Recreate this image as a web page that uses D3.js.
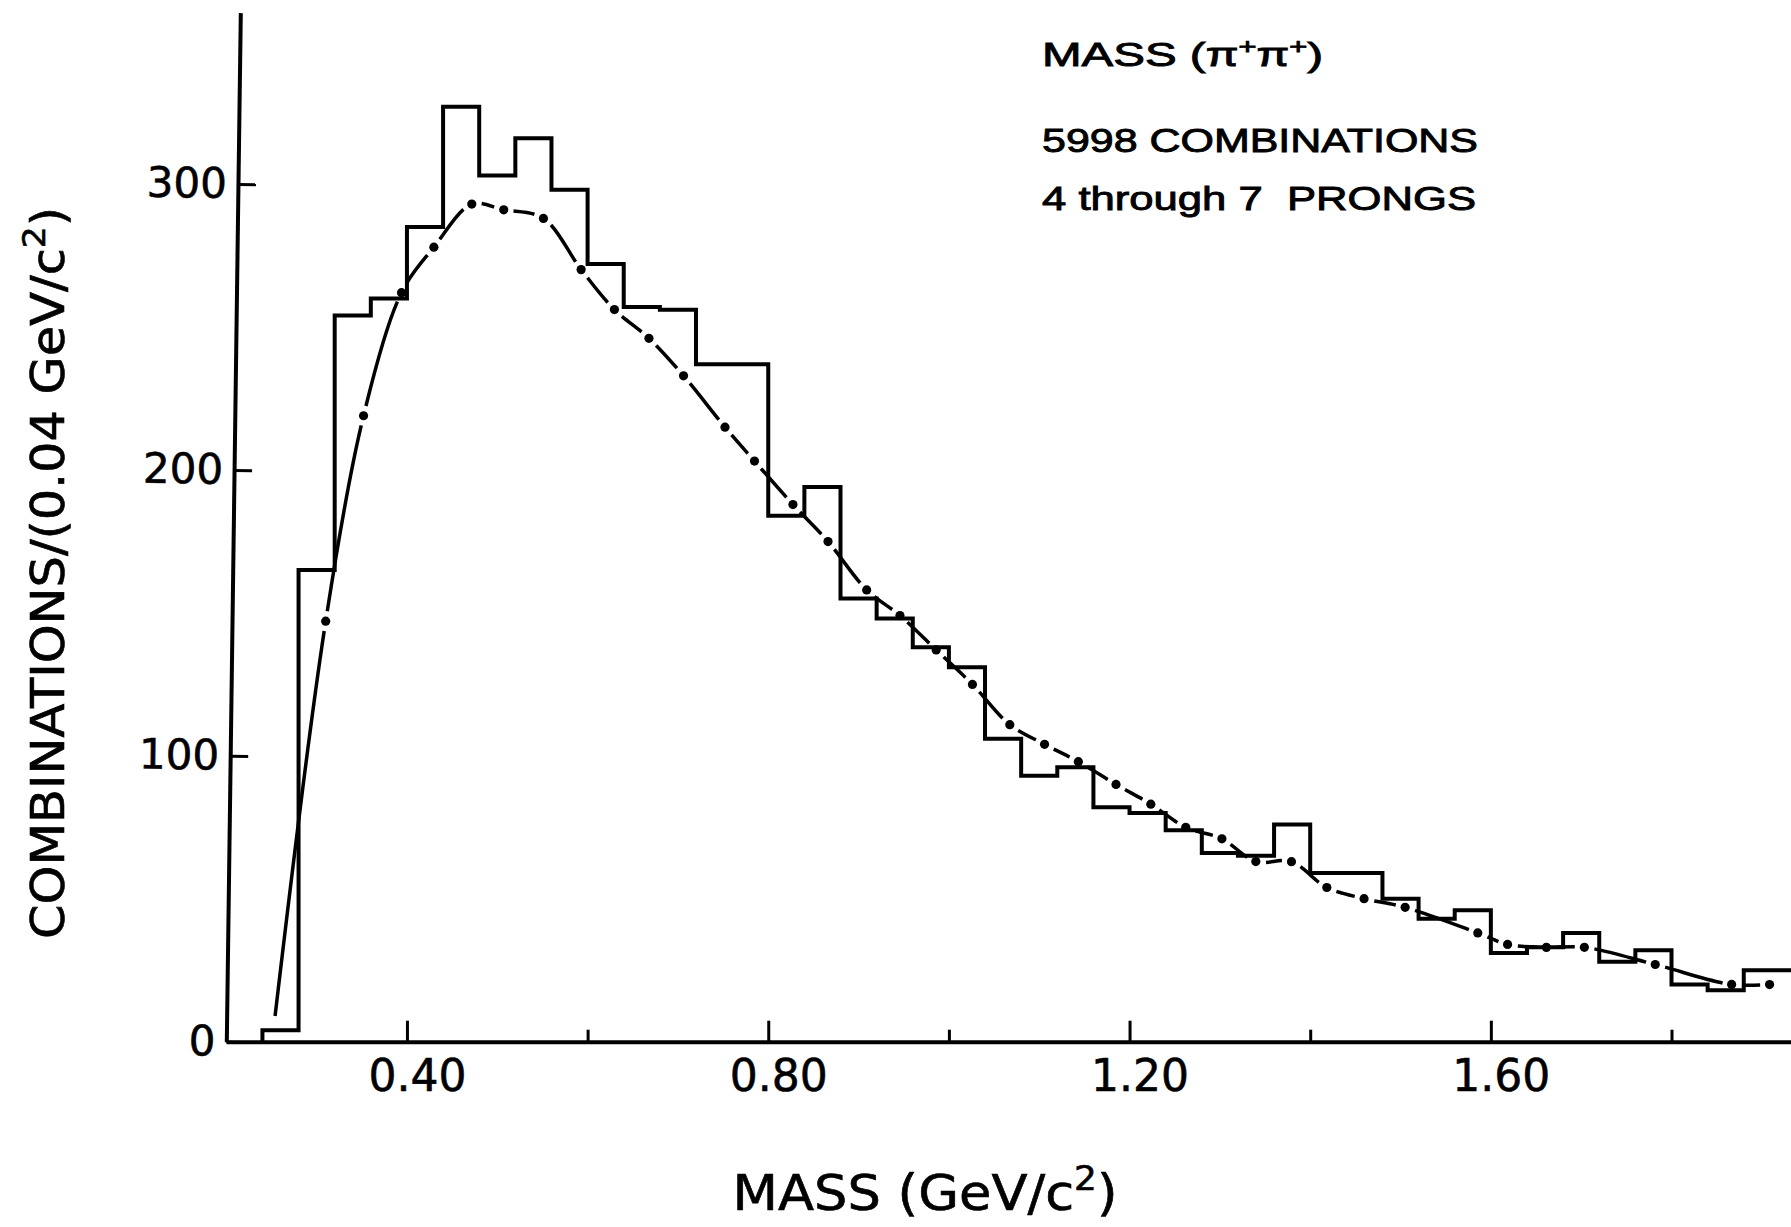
<!DOCTYPE html>
<html>
<head>
<meta charset="utf-8">
<script src="https://cdn.jsdelivr.net/npm/d3@7"></script>
<style>
  body { margin: 0; background: #fff; }
  svg { display: block; }
  .tick text { font-family: "DejaVu Sans", sans-serif; fill: #000; stroke: #000; stroke-width: 0.6px; }
  .axis path, .axis line { stroke: #000; }
</style>
</head>
<body>
<div id="chart"></div>
<script>
// histogram: lower bin edge (GeV/c^2), bins are 0.04 wide
const binLow = [0.24, 0.28, 0.32, 0.36, 0.40, 0.44, 0.48, 0.52, 0.56, 0.60,
                0.64, 0.68, 0.72, 0.76, 0.80, 0.84, 0.88, 0.92, 0.96, 1.00,
                1.04, 1.08, 1.12, 1.16, 1.20, 1.24, 1.28, 1.32, 1.36, 1.40,
                1.44, 1.48, 1.52, 1.56, 1.60, 1.64, 1.68, 1.72, 1.76, 1.80,
                1.84, 1.88, 1.92];
const counts = [4, 165, 254, 260, 285, 327, 303, 316, 298, 272,
                257, 256, 237, 237, 184, 194, 155, 148, 138, 131,
                106, 93, 96, 82, 80, 74, 66, 65, 76, 59,
                59, 50, 43, 46, 31, 33, 38, 28, 32, 20,
                18, 25, 25];
const binWidth = 0.04;

// dash-dot curve: start of the line, then the dots along it
const fitMass  = [0.254, 0.310, 0.352, 0.394, 0.430, 0.472, 0.507, 0.551, 0.593, 0.630,
                  0.668, 0.706, 0.752, 0.785, 0.827, 0.866, 0.909, 0.946, 0.986, 1.026,
                  1.067, 1.106, 1.143, 1.185, 1.224, 1.262, 1.302, 1.340, 1.379, 1.418,
                  1.460, 1.505, 1.586, 1.619, 1.661, 1.704, 1.782, 1.867, 1.909];
const fitCount = [9, 147, 219, 262, 278, 293, 291, 288, 270, 256,
                  246, 233, 215, 203, 188, 175, 158, 149, 137, 125,
                  111, 104, 98, 90, 83, 75, 71, 63, 63, 54,
                  50, 47, 38, 34, 33, 33, 27, 20, 20];

const yTicks = [0, 100, 200, 300];
const xMajor = [0.40, 0.80, 1.20, 1.60];
const xMinor = [0.60, 1.00, 1.40, 1.80];

const width = 1791, height = 1227;

const x = d3.scaleLinear().domain([0.2, 1.9323]).range([226.3, 1791]);
const y = d3.scaleLinear().domain([0, 360]).range([1041.7, 12.5]);

const svg = d3.select("#chart").append("svg")
    .attr("width", width)
    .attr("height", height);

svg.append("rect").attr("width", width).attr("height", height).attr("fill", "#fff");

// x axis, ticks pointing up into the plot
const xAxis = svg.append("g")
    .attr("class", "axis")
    .attr("transform", `translate(0,${y(0)})`)
    .call(d3.axisBottom(x).tickValues(xMajor).tickSize(-21).tickSizeOuter(0)
        .tickPadding(18).tickFormat(d3.format(".2f")));
xAxis.select(".domain").attr("stroke-width", 4);
xAxis.selectAll(".tick line").attr("stroke-width", 3);
xAxis.selectAll(".tick text").attr("font-size", 44).attr("dx", 10);

const xMinorAxis = svg.append("g")
    .attr("class", "axis")
    .attr("transform", `translate(0,${y(0)})`)
    .call(d3.axisBottom(x).tickValues(xMinor).tickSize(-12).tickFormat(""));
xMinorAxis.select(".domain").remove();
xMinorAxis.selectAll(".tick line").attr("stroke-width", 3);

// y axis (the drawn axis leans a little to the right at the top)
const yAxis = svg.append("g")
    .attr("class", "axis")
    .attr("transform", `translate(${x(0.2)},0) rotate(0.78 0 ${y(0)})`)
    .call(d3.axisLeft(y).tickValues(yTicks).tickSize(-18).tickSizeOuter(0).tickPadding(11));
yAxis.select(".domain").attr("stroke-width", 4);
yAxis.selectAll(".tick line").attr("stroke-width", 3);
yAxis.selectAll(".tick text").attr("font-size", 42);

// histogram as a step line
const histPts = [[binLow[0], 0]].concat(binLow.map((m, i) => [m, counts[i]]));
histPts.push([binLow[binLow.length - 1] + binWidth, counts[counts.length - 1]]);

svg.append("path")
    .datum(histPts)
    .attr("fill", "none")
    .attr("stroke", "#000")
    .attr("stroke-width", 4)
    .attr("stroke-linejoin", "miter")
    .attr("d", d3.line().x(d => x(d[0])).y(d => y(d[1])).curve(d3.curveStepAfter));

// fit curve, dashes between the dots
const fitPts = fitMass.map((m, i) => [x(m), y(fitCount[i])]);
const fit = svg.append("path")
    .datum(fitPts)
    .attr("fill", "none")
    .attr("stroke", "#000")
    .attr("stroke-width", 3.5)
    .attr("d", d3.line().curve(d3.curveCatmullRom.alpha(0.5)));

const node = fit.node();
const total = node.getTotalLength();
const samples = d3.range(0, total, 1).map(l => {
    const p = node.getPointAtLength(l);
    return [l, p.x, p.y];
});
const dotLen = fitPts.slice(1).map(p => {
    let best = samples[0], bd = Infinity;
    samples.forEach(s => {
        const dd = (s[1] - p[0]) ** 2 + (s[2] - p[1]) ** 2;
        if (dd < bd) { bd = dd; best = s; }
    });
    return best[0];
});

// a dash from each dot (or the start) to the next dot, leaving a gap round each dot
const gap = 10;
const dash = [];
let prev = 0;
dotLen.forEach((L, i) => {
    const start = i === 0 ? 0 : prev + gap;
    dash.push(Math.max(L - gap - start, 0.5), gap * 2);
    prev = L;
});
fit.attr("stroke-dasharray", dash.join(" "));

svg.append("g").selectAll("circle")
    .data(dotLen)
    .join("circle")
    .attr("cx", L => node.getPointAtLength(L).x)
    .attr("cy", L => node.getPointAtLength(L).y)
    .attr("r", 4.6)
    .attr("fill", "#000");

// axis titles
const condensed = '"DejaVu Sans Condensed", "Liberation Sans Narrow", "DejaVu Sans", sans-serif';

const yTitle = svg.append("text")
    .attr("transform", "translate(64,573) rotate(-90)")
    .attr("text-anchor", "middle")
    .attr("font-family", condensed)
    .attr("font-size", 46)
    .attr("fill", "#000")
    .attr("stroke", "#000")
    .attr("stroke-width", 0.6)
    .attr("textLength", 732)
    .attr("lengthAdjust", "spacingAndGlyphs");
yTitle.append("tspan").text("COMBINATIONS/(0.04 GeV/c");
yTitle.append("tspan").attr("baseline-shift", "super").attr("font-size", 32).text("2");
yTitle.append("tspan").text(")");

const xTitle = svg.append("text")
    .attr("x", 925)
    .attr("y", 1210)
    .attr("text-anchor", "middle")
    .attr("font-family", condensed)
    .attr("font-size", 50)
    .attr("fill", "#000")
    .attr("stroke", "#000")
    .attr("stroke-width", 0.6)
    .attr("textLength", 385)
    .attr("lengthAdjust", "spacingAndGlyphs");
xTitle.append("tspan").text("MASS (GeV/c");
xTitle.append("tspan").attr("baseline-shift", "super").attr("font-size", 34).text("2");
xTitle.append("tspan").text(")");

// legend text, top right (wide lettering in the original)
const note = svg.append("g")
    .attr("font-family", '"Liberation Sans", Arial, sans-serif')
    .attr("font-size", 34)
    .attr("fill", "#000")
    .attr("stroke", "#000")
    .attr("stroke-width", 0.9);

const l1 = note.append("text").attr("x", 1042).attr("y", 66)
    .attr("textLength", 281).attr("lengthAdjust", "spacingAndGlyphs");
l1.append("tspan").text("MASS (π");
l1.append("tspan").attr("baseline-shift", "super").attr("font-size", 22).text("+");
l1.append("tspan").text("π");
l1.append("tspan").attr("baseline-shift", "super").attr("font-size", 22).text("+");
l1.append("tspan").text(")");

note.append("text").attr("x", 1042).attr("y", 152)
    .attr("textLength", 436).attr("lengthAdjust", "spacingAndGlyphs")
    .text("5998 COMBINATIONS");

note.append("text").attr("x", 1042).attr("y", 210)
    .attr("textLength", 434).attr("lengthAdjust", "spacingAndGlyphs")
    .attr("xml:space", "preserve")
    .text("4 through 7  PRONGS");
</script>
</body>
</html>
